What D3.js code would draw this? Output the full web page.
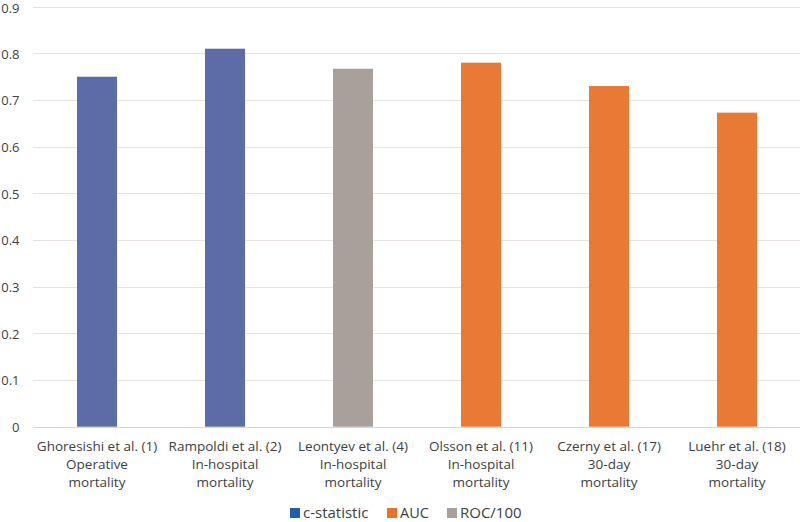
<!DOCTYPE html>
<html><head><meta charset="utf-8">
<script src="https://cdn.jsdelivr.net/npm/d3@7"></script>
<style>body{margin:0;background:#fff}svg{display:block}text{font-family:"Open Sans",sans-serif;fill:#404040}</style>
</head><body><svg id="c" width="800" height="522"></svg>
<script>
const categories = [
  ["Ghoresishi et al. (1)","Operative","mortality"],
  ["Rampoldi et al. (2)","In-hospital","mortality"],
  ["Leontyev et al. (4)","In-hospital","mortality"],
  ["Olsson et al. (11)","In-hospital","mortality"],
  ["Czerny et al. (17)","30-day","mortality"],
  ["Luehr et al. (18)","30-day","mortality"]
];
const values = [0.75, 0.81, 0.767, 0.78, 0.73, 0.673];
const metric = ["c-statistic","c-statistic","ROC/100","AUC","AUC","AUC"];
const seriesNames = ["c-statistic","AUC","ROC/100"];
const barColors = {"c-statistic":"#5d6ba7","AUC":"#e87a35","ROC/100":"#a8a09a"};
const legendColors = {"c-statistic":"#2160a8","AUC":"#e8722c","ROC/100":"#a8a09a"};
const yTicks = [0,0.1,0.2,0.3,0.4,0.5,0.6,0.7,0.8,0.9];

const svg = d3.select("#c");
const x = d3.scaleBand().domain(d3.range(categories.length)).range([33,801]).paddingInner(0.6875).paddingOuter(0.34375);
const y = d3.scaleLinear().domain([0,0.9]).range([426.7,6.7]);

const grid = svg.append("g");
grid.selectAll("line").data(yTicks).join("line")
  .attr("x1",33).attr("x2",800).attr("y1",d=>Math.round(y(d))+0.5).attr("y2",d=>Math.round(y(d))+0.5)
  .attr("stroke",d=>d===0?"#dcd6d2":"#e8e2de").attr("stroke-width",1);

const yAxis = d3.axisLeft(y).tickValues(yTicks).tickFormat(d=>d===0?"0":d3.format(".1f")(d)).tickSize(0).tickPadding(0);
const ya = svg.append("g").attr("transform","translate(19.5,0)").call(yAxis);
ya.select(".domain").remove();
ya.selectAll("text").style("font-size","13px").attr("fill","#404040").attr("dy","0.36em");
ya.selectAll(".tick").filter(d=>d===0.9).select("text").attr("dy","0.45em");

svg.append("g").selectAll("rect").data(values).join("rect")
  .attr("x",(d,i)=>x(i)).attr("width",x.bandwidth())
  .attr("y",d=>y(d)).attr("height",d=>y(0)-y(d))
  .attr("fill",(d,i)=>barColors[metric[i]]);

const xl = svg.append("g");
categories.forEach((lines,i)=>{
  const t = xl.append("text").attr("x",x(i)+x.bandwidth()/2).attr("text-anchor","middle").style("font-size","13.5px");
  lines.forEach((l,j)=>t.append("tspan").attr("x",x(i)+x.bandwidth()/2).attr("y",451+j*18).text(l));
});

const legX = [290,387,447];
const lg = svg.append("g");
seriesNames.forEach((s,i)=>{
  lg.append("rect").attr("x",legX[i]).attr("y",508).attr("width",10).attr("height",10).attr("fill",legendColors[s]);
  lg.append("text").attr("x",legX[i]+13).attr("y",518).style("font-size",i===1?"14.5px":"15px").text(s);
});
</script></body></html>
